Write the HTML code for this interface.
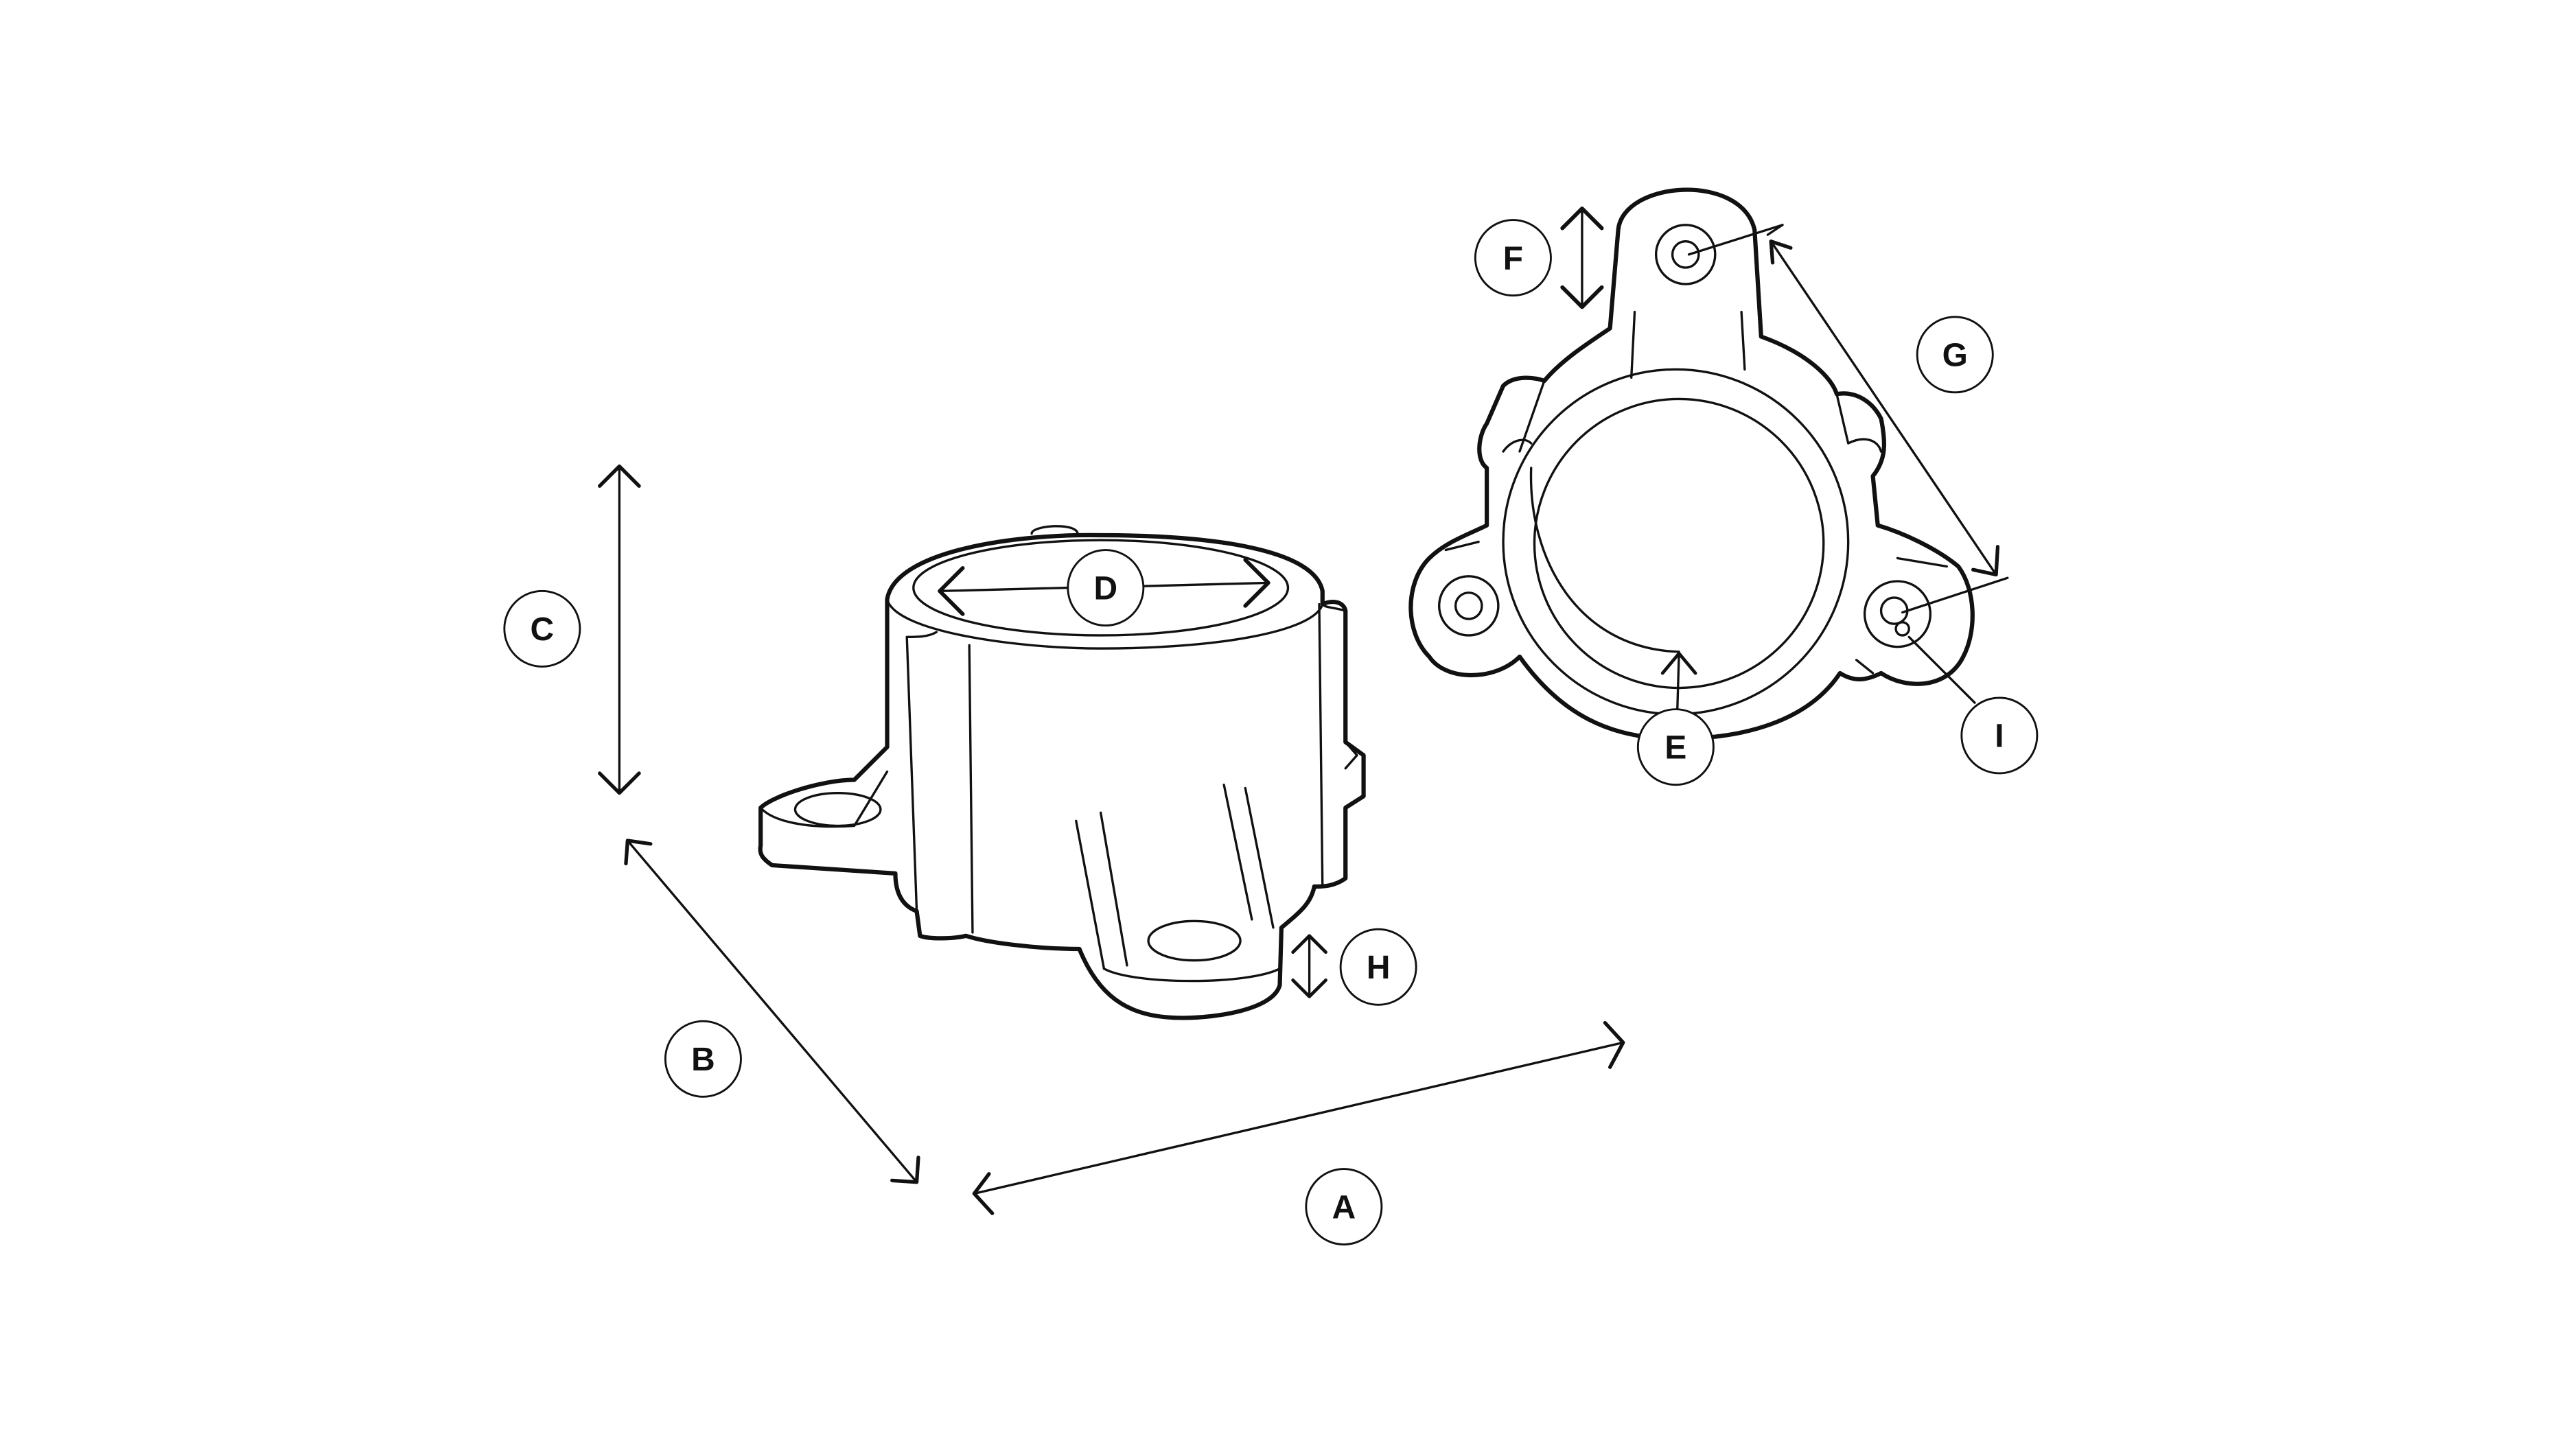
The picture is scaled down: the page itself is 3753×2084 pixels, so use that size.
<!DOCTYPE html>
<html><head><style>html,body{margin:0;padding:0;background:#fff}svg{display:block}</style></head>
<body>
<svg width="3753" height="2084" viewBox="0 0 1568 871" preserveAspectRatio="none" xmlns="http://www.w3.org/2000/svg">
<rect width="1568" height="871" fill="#fff"/>
<g fill="none" stroke="#111" stroke-linecap="round" stroke-linejoin="round">
<!-- dimension lines -->
<g stroke-width="1.4">
<line x1="377" y1="284" x2="377" y2="483"/>
<polyline points="365,296 377,284 389,296" stroke-width="2.2"/>
<polyline points="365,471 377,483 389,471" stroke-width="2.2"/>
<line x1="382" y1="512" x2="558" y2="720"/>
<polyline points="381,526 382,512 396,514" stroke-width="2.2"/>
<polyline points="559,705 558,720 543,719" stroke-width="2.2"/>
<line x1="593" y1="727" x2="988" y2="635"/>
<polyline points="604,739 593,727 602,715" stroke-width="2.2"/>
<polyline points="977,623 988,635 980,650" stroke-width="2.2"/>
<line x1="572" y1="360" x2="650" y2="358"/>
<line x1="696" y1="357" x2="772" y2="355"/>
<polyline points="586,346 572,360 586,374" stroke-width="2.4"/>
<polyline points="758,341 772,355 758,369" stroke-width="2.4"/>
<line x1="797" y1="570" x2="797" y2="607"/>
<polyline points="787,580 797,570 807,580" stroke-width="2"/>
<polyline points="787,597 797,607 807,597" stroke-width="2"/>
<line x1="963" y1="127" x2="963" y2="187"/>
<polyline points="951,139 963,127 975,139" stroke-width="2.4"/>
<polyline points="951,175 963,187 975,175" stroke-width="2.4"/>
<line x1="1078" y1="147" x2="1215" y2="350"/>
<polyline points="1079,160 1078,147 1090,151" stroke-width="2.2"/>
<polyline points="1216,333 1215,350 1201,347" stroke-width="2.2"/>
<line x1="1076" y1="143" x2="1085" y2="137"/>
<line x1="1028" y1="155" x2="1085" y2="137"/>
<line x1="1158" y1="373" x2="1222" y2="352"/>
<line x1="1022" y1="398" x2="1021" y2="432"/>
<polyline points="1012,410 1022,398 1032,410" stroke-width="2"/>
<line x1="1162" y1="388" x2="1202" y2="428"/>
</g>
<!-- left part -->
<g stroke-width="2.6">
<path d="M540,365 C545,335 620,325 670,326 C740,326 800,335 805,360 L805,368 C812,365 818,367 819,372 L819,452 L830,460 L830,485 L819,492 L819,535 C812,540 805,540 800,540 C798,550 792,555 780,565 L779,600 C775,615 740,620 720,620 C690,620 670,610 657,578 C630,578 600,574 588,570 C580,572 565,572 560,570 L558,555 C550,552 545,545 545,532 L470,527 C464,523 462,520 463,515 L463,492 C470,485 500,475 520,475 L540,455 Z"/>
</g>
<g stroke-width="1.4">
<ellipse cx="670" cy="358" rx="114" ry="29"/>
<path d="M540,365 C545,385 620,395 670,395 C740,395 800,385 805,368"/>
<path d="M552,388 L558,555 M570,385 C565,388 558,388 552,388 M590,393 L592,568 M803,368 L805,540 M819,372 C812,370 806,370 805,368"/>
<path d="M463,492 C470,500 490,505 520,503 L540,470"/>
<ellipse cx="510" cy="493" rx="26" ry="10"/>
<path d="M655,500 L672,590 M670,495 L686,588 M745,478 L762,560 M758,480 L775,565"/>
<ellipse cx="727" cy="573" rx="28" ry="12"/>
<path d="M672,590 C690,600 760,600 779,590"/>
<path d="M628,325 C628,320 655,318 656,325"/>
<path d="M819,452 L826,460 L819,468"/>
</g>
<!-- right part -->
<g stroke-width="2.6">
<path d="M980,200 L985,140 C988,110 1060,105 1068,140 L1072,205 C1100,215 1115,230 1118,240 C1130,238 1140,245 1145,255 C1148,270 1148,280 1140,290 L1143,320 C1160,325 1180,335 1192,345 C1203,360 1203,385 1195,400 C1185,420 1160,420 1145,410 C1135,415 1128,415 1120,410 C1100,440 1060,450 1020,450 C980,450 950,435 925,400 C910,415 880,415 870,400 C855,385 855,355 870,340 C880,330 895,325 905,320 L905,285 C898,280 900,265 905,258 L915,235 C922,228 935,230 940,232 C950,220 965,210 980,200 Z"/>
</g>
<g stroke-width="1.4">
<circle cx="1020" cy="330" r="105"/>
<circle cx="1022" cy="331" r="88"/>
<path d="M932,285 C930,340 960,395 1022,397"/>
<circle cx="1026" cy="155" r="18"/>
<circle cx="1026" cy="155" r="8"/>
<path d="M995,190 L993,230 M1060,190 L1062,225"/>
<path d="M940,232 L925,275 M915,275 C920,268 928,266 932,270 M1118,240 L1125,270 M1125,270 C1135,265 1143,268 1145,275"/>
<circle cx="894" cy="369" r="18"/>
<circle cx="894" cy="369" r="8"/>
<path d="M880,335 L900,330"/>
<circle cx="1155" cy="374" r="20"/>
<circle cx="1153" cy="372" r="8"/>
<circle cx="1158" cy="383" r="4"/>
<path d="M1155,340 L1185,345 M1130,402 L1140,410"/>
</g>
</g>
<!-- label circles -->
<g font-family="Liberation Sans, sans-serif" font-weight="bold" font-size="20" text-anchor="middle">
<g fill="#fff" stroke="#111" stroke-width="1.2">
<circle cx="330" cy="383" r="23"/><circle cx="428" cy="645" r="23"/><circle cx="818" cy="735" r="23"/>
<circle cx="673" cy="358" r="23"/><circle cx="839" cy="589" r="23"/><circle cx="921" cy="157" r="23"/>
<circle cx="1190" cy="216" r="23"/><circle cx="1020" cy="455" r="23"/><circle cx="1217" cy="448" r="23"/>
</g>
<g fill="#111">
<text x="330" y="390">C</text><text x="428" y="652">B</text><text x="818" y="742">A</text>
<text x="673" y="365">D</text><text x="839" y="596">H</text><text x="921" y="164">F</text>
<text x="1190" y="223">G</text><text x="1020" y="462">E</text><text x="1217" y="455">I</text>
</g>
</g>
</svg>
</body></html>
